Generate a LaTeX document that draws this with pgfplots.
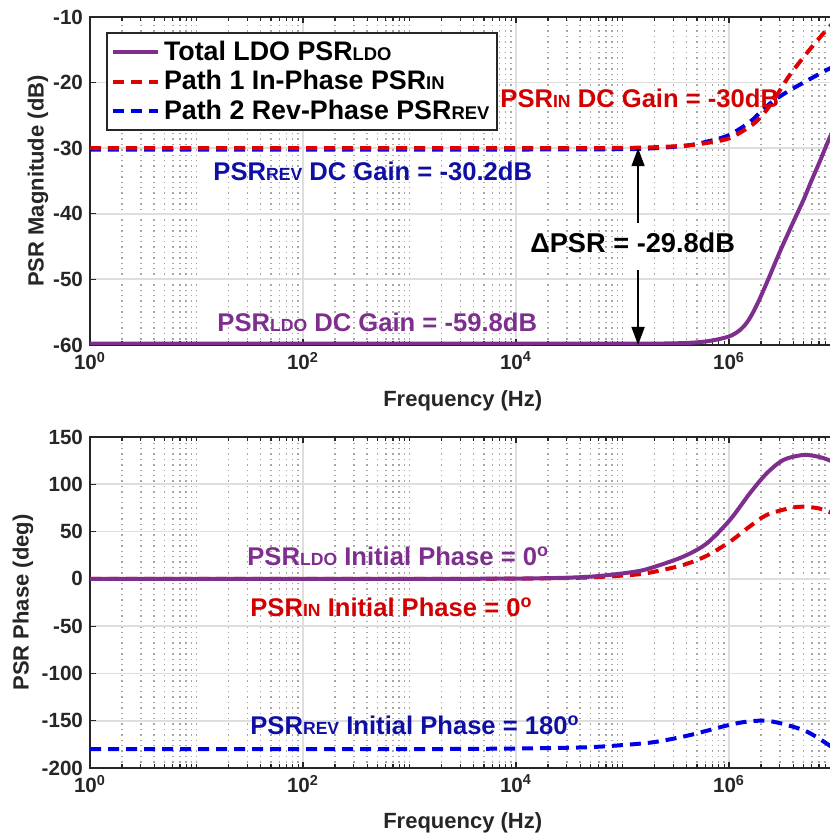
\documentclass[border=0pt]{standalone}
\usepackage{fontspec}
\setmainfont{Liberation Sans}
\usepackage{pgfplots}
\pgfplotsset{compat=1.18}
\usetikzlibrary{arrows.meta}

\definecolor{ldo}{RGB}{126,47,142}
\definecolor{inred}{RGB}{225,0,0}
\definecolor{intext}{RGB}{210,0,0}
\definecolor{revblue}{RGB}{0,0,230}
\definecolor{revtext}{RGB}{15,15,165}
\definecolor{axgray}{RGB}{38,38,38}

% small caps-like subscript letters
\newcommand{\sm}[2][8]{{\fontsize{#1}{#1}\selectfont #2}}

\pgfplotsset{
  every axis/.append style={
    scale only axis, width=372.75pt,
    xmode=log, xmin=1, xmax=1e7,
    xtick={1,1e2,1e4,1e6},
    xticklabels={10\textsuperscript{0},10\textsuperscript{2},10\textsuperscript{4},10\textsuperscript{6}},
    minor xtick={2,3,4,5,6,7,8,9,10,20,30,40,50,60,70,80,90,200,300,400,500,600,700,800,900,1000,
      2000,3000,4000,5000,6000,7000,8000,9000,20000,30000,40000,50000,60000,70000,80000,90000,1e5,
      2e5,3e5,4e5,5e5,6e5,7e5,8e5,9e5,2e6,3e6,4e6,5e6,6e6,7e6,8e6,9e6},
    xmajorgrids, xminorgrids, ymajorgrids,
    major grid style={line width=0.9pt, black!13},
    minor grid style={line width=0.7pt, black!35, dotted},
    axis line style={line width=1pt, axgray},
    major tick length=3pt, minor tick length=2pt,
    tick style={axgray, line width=0.6pt},
    tick label style={font=\bfseries\fontsize{10.3}{12}\selectfont, text=axgray},
    yticklabel style={/pgf/number format/assume math mode=true},
    label style={font=\bfseries\fontsize{11}{13}\selectfont, text=axgray},
    xlabel={Frequency (Hz)},
    clip mode=individual,
  },
}
\tikzset{
  ann/.style={anchor=west, inner sep=0pt, font=\bfseries\fontsize{12.8}{14}\selectfont},
  dsh/.style={line width=2pt, dash pattern=on 5.5pt off 3.5pt},
}

\begin{document}
\begin{tikzpicture}
\useasboundingbox (-45pt,-246.5pt) rectangle (369.5pt,172.5pt);

% ---- magnitude ----
\begin{axis}[
  at={(0pt,0pt)}, anchor=south west, height=164pt,
  ymin=-60, ymax=-10, ytick={-60,-50,-40,-30,-20,-10},
  ylabel={PSR Magnitude (dB)},
  ylabel style={at={(axis description cs:-0.0698,0.5)}, anchor=center},
  xlabel style={at={(axis description cs:0.5,-0.1707)}, anchor=center},
  legend style={at={(rel axis cs:0.0215,0.954)}, anchor=north west,
    draw=axgray, line width=1pt, fill=white,
    font=\bfseries\fontsize{13.4}{14}\selectfont,
    inner xsep=2pt, inner ysep=2pt, row sep=-0.5pt, cells={anchor=west}},
  legend image code/.code={\draw[#1] (0pt,0pt) -- (22.5pt,0pt);},
]
\addlegendimage{ldo, line width=2pt}
\addlegendentry{Total LDO PSR\sm[9.2]{LDO}}
\addlegendimage{inred, dsh}
\addlegendentry{Path 1 In-Phase PSR\sm[9.2]{IN}}
\addlegendimage{revblue, dsh}
\addlegendentry{Path 2 Rev-Phase PSR\sm[9.2]{REV}}

\addplot[revblue, dsh, smooth, forget plot] coordinates {
(1,-30.2) (1e4,-30.2) (1e5,-30.15) (2e5,-30.0) (4e5,-29.6) (6.2e5,-29.0) (1e6,-28.0)
(1.57e6,-26.0) (2e6,-24.4) (2.6e6,-22.8) (3.7e6,-21.2) (5.7e6,-19.5) (8.2e6,-18.1) (1e7,-17.4)};
\addplot[inred, dsh, smooth, forget plot] coordinates {
(1,-30) (1e4,-30) (1e5,-29.95) (2e5,-29.85) (4e5,-29.6) (6.2e5,-29.2) (1e6,-28.5)
(1.57e6,-26.7) (2e6,-25.2) (2.6e6,-22.8) (3.7e6,-18.9) (5.7e6,-15.0) (8.2e6,-12.0) (1e7,-10.6)};
\addplot[ldo, line width=2pt, smooth, forget plot] coordinates {
(1,-59.8) (1e3,-59.8) (1e5,-59.8) (3e5,-59.75) (5e5,-59.6) (7e5,-59.3) (1e6,-58.7)
(1.25e6,-57.8) (1.5e6,-56.4) (1.8e6,-54.1) (2.25e6,-50.6) (3e6,-45.8) (4e6,-41.3)
(5e6,-37.9) (6e6,-34.8) (7e6,-32.3) (8.6e6,-28.8) (1e7,-26.4)};

\draw[-{Triangle[length=9pt,width=6.5pt]}, line width=0.8pt] (axis cs:1.4e5,-41.4) -- (axis cs:1.4e5,-30);
\draw[-{Triangle[length=9pt,width=6.5pt]}, line width=0.8pt] (axis cs:1.4e5,-48.6) -- (axis cs:1.4e5,-60);

\node[ann, text=intext] at (axis cs:7.08e3,-22.35) {PSR\sm[8.8]{IN} DC Gain = -30dB};
\node[ann, text=revtext] at (axis cs:14.3,-33.6) {PSR\sm[8.8]{REV} DC Gain = -30.2dB};
\node[ann, text=black, font=\bfseries\fontsize{13.6}{15}\selectfont] at (axis cs:1.35e4,-44.45) {ΔPSR = -29.8dB};
\node[ann, text=ldo] at (axis cs:15.6,-56.5) {PSR\sm[8.8]{LDO} DC Gain = -59.8dB};
\end{axis}

% ---- phase ----
\begin{axis}[
  at={(0pt,-211.5pt)}, anchor=south west, height=165.5pt,
  ymin=-200, ymax=150, ytick={-200,-150,-100,-50,0,50,100,150},
  ylabel={PSR Phase (deg)},
  ylabel style={at={(axis description cs:-0.0899,0.5)}, anchor=center},
  xlabel style={at={(axis description cs:0.5,-0.166)}, anchor=center},
]
\addplot[revblue, dsh, smooth] coordinates {
(1,-180) (1e3,-180) (1e4,-179.4) (3e4,-178.6) (6.2e4,-177.4) (1.81e5,-173.2) (3.72e5,-166.8)
(6.6e5,-159.8) (1e6,-154.5) (1.47e6,-151) (2.26e6,-150) (3.5e6,-154.5) (5.4e6,-161.6)
(8.2e6,-173.9) (1e7,-181)};
\addplot[inred, dsh, smooth] coordinates {
(1,0) (1e3,0) (1e4,0.2) (3e4,0.8) (6e4,2) (1.26e5,4.3) (1.81e5,6.6) (3.72e5,14.7)
(6.2e5,24.5) (1.02e6,39.3) (1.57e6,55.5) (2.26e6,67.6) (3.7e6,74.7) (5e6,76.3)
(7e6,74.5) (8.6e6,71) (1e7,68.5)};
\addplot[ldo, line width=2pt, smooth] coordinates {
(1,0) (1e3,0) (1e4,0.3) (3e4,1.2) (6e4,3) (1.26e5,7.3) (1.81e5,11.2) (3.72e5,23.5)
(6.2e5,37.6) (1.02e6,62.3) (1.57e6,90.5) (2.26e6,111.6) (3.24e6,125.7) (5e6,131)
(7e6,129) (8.6e6,125.7) (1e7,122.5)};

\node[ann, text=ldo] at (axis cs:29.8,24.2) {PSR\sm[8.8]{LDO} Initial Phase = 0\textsuperscript{o}};
\node[ann, text=intext] at (axis cs:31.8,-29.7) {PSR\sm[8.8]{IN} Initial Phase = 0\textsuperscript{o}};
\node[ann, text=revtext] at (axis cs:31.8,-154.5) {PSR\sm[8.8]{REV} Initial Phase = 180\textsuperscript{o}};
\end{axis}
\end{tikzpicture}
\end{document}
